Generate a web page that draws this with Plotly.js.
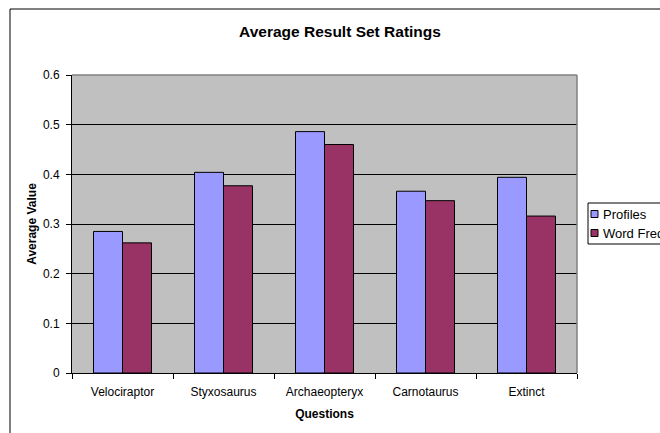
<!DOCTYPE html>
<html>
<head>
<meta charset="utf-8">
<script src="https://cdn.plot.ly/plotly-3.0.1.min.js"></script>
<style>
  html, body { margin: 0; padding: 0; background: #fff; overflow: hidden; }
  #chart { width: 660px; height: 433px; }
</style>
</head>
<body>
<div id="chart"></div>
<script>
// Average rating per question for each retrieval method
const questions = ["Velociraptor", "Styxosaurus", "Archaeopteryx", "Carnotaurus", "Extinct"];
const profiles = [0.285, 0.404, 0.486, 0.366, 0.394];
const wordFreq = [0.262, 0.377, 0.460, 0.347, 0.316];
const seriesNames = ["Profiles", "Word Freq"];
const seriesColors = ["#9999FF", "#993366"];

const font = "Liberation Sans, Arial, sans-serif";

// plot box in pixels (used to place the frame and the key box)
const W = 660, H = 433;
const M = { l: 72, r: 83, t: 75, b: 60 };
const plotW = W - M.l - M.r, plotH = H - M.t - M.b;
const px = v => (v - M.l) / plotW;          // pixel x -> paper x
const py = v => (H - M.b - v) / plotH;      // pixel y -> paper y

const traces = [profiles, wordFreq].map((vals, i) => ({
  type: "bar", name: seriesNames[i], x: questions, y: vals,
  marker: { color: seriesColors[i], line: { color: "#000000", width: 1 } },
  showlegend: false
}));

// Key box drawn at the right of the plot, running off the page edge
const keyShapes = [
  { type: "rect", xref: "paper", yref: "paper",
    x0: px(588), x1: px(700), y0: py(203), y1: py(244),
    fillcolor: "#ffffff", line: { color: "#000", width: 1 } }
];
const keyLabels = [];
seriesNames.forEach((name, i) => {
  const cy = 214 + i * 19;
  keyShapes.push({ type: "rect", xref: "paper", yref: "paper",
    x0: px(591), x1: px(598), y0: py(cy - 3.5), y1: py(cy + 3.5),
    fillcolor: seriesColors[i], line: { color: "#000", width: 1 } });
  keyLabels.push({ xref: "paper", yref: "paper", x: px(601), y: py(cy),
    xanchor: "left", yanchor: "middle", showarrow: false, text: name,
    font: { family: font, size: 13, color: "#000" } });
});

const layout = {
  width: W, height: H,
  margin: M,
  paper_bgcolor: "#ffffff",
  plot_bgcolor: "#C0C0C0",
  font: { family: font, size: 11, color: "#000" },
  title: {
    text: "<b>Average Result Set Ratings</b>",
    font: { family: font, size: 15.5, color: "#000" },
    x: 340 / W, xref: "container", xanchor: "center",
    y: 1 - 32 / H, yref: "container", yanchor: "middle"
  },
  barmode: "group",
  bargap: 0.426,
  bargroupgap: 0,
  showlegend: false,
  xaxis: {
    type: "category",
    showline: true, linecolor: "#000", linewidth: 1,
    ticks: "outside", tickson: "boundaries", ticklen: 5, tickcolor: "#000",
    ticklabelstandoff: 8,
    showgrid: false,
    tickfont: { family: font, size: 12, color: "#000" },
    title: { text: "<b>Questions</b>", font: { family: font, size: 12, color: "#000" }, standoff: 11 }
  },
  yaxis: {
    range: [0, 0.6], dtick: 0.1, tick0: 0,
    showline: true, linecolor: "#000", linewidth: 1,
    ticks: "outside", ticklen: 5, tickcolor: "#000",
    ticklabelstandoff: 4,
    showgrid: true, gridcolor: "#000", gridwidth: 1,
    zeroline: false,
    tickfont: { family: font, size: 12, color: "#000" },
    title: { text: "<b>Average Value</b>", font: { family: font, size: 12, color: "#000" }, standoff: 3 }
  },
  shapes: [
    // plot area edge on top and right
    { type: "line", xref: "paper", yref: "paper", x0: 0, x1: 1, y0: 1, y1: 1,
      line: { color: "#808080", width: 1.5 } },
    { type: "line", xref: "paper", yref: "paper", x0: 1, x1: 1, y0: 0, y1: 1,
      line: { color: "#808080", width: 1.5 } },
    // chart area frame: top and left edges
    { type: "line", xref: "paper", yref: "paper",
      x0: px(10), x1: px(W + 5), y0: py(9), y1: py(9),
      line: { color: "#000", width: 1 } },
    { type: "line", xref: "paper", yref: "paper",
      x0: px(10), x1: px(10), y0: py(9), y1: py(H + 5),
      line: { color: "#000", width: 1 } }
  ].concat(keyShapes),
  annotations: keyLabels
};

Plotly.newPlot("chart", traces, layout, { displayModeBar: false, staticPlot: true });
</script>
</body>
</html>
